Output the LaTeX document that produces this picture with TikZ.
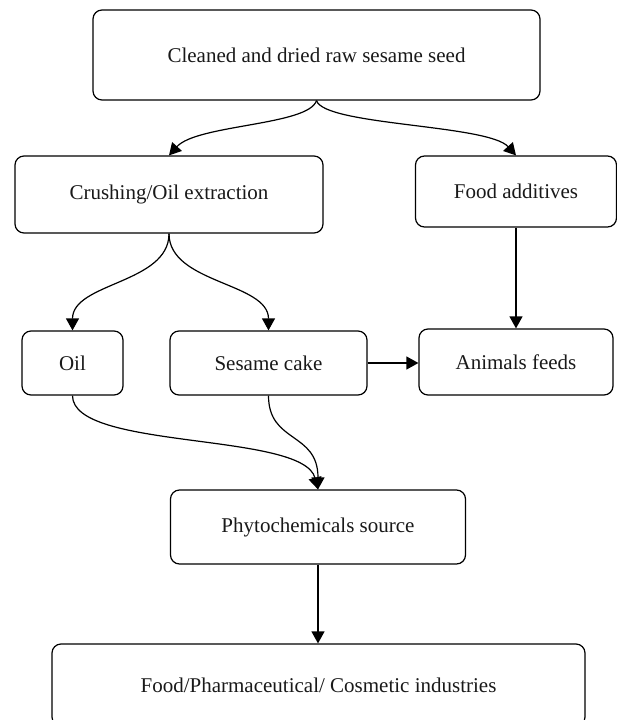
\documentclass[tikz,border=0pt]{standalone}
\usepackage{fontspec}
\setmainfont{Liberation Serif}
\usetikzlibrary{arrows.meta,calc}
\begin{document}
\begin{tikzpicture}[x=1pt,y=-1pt,
  box/.style={draw=black,line width=1.2pt,rounded corners=9pt,inner sep=0pt,
    font=\fontsize{21}{25}\selectfont,text=black!90},
  arr/.style={draw=black,line width=1.2pt,-{Triangle[length=12pt,width=13pt]}}]
\useasboundingbox (0,0) rectangle (617,720);
\node[box,minimum width=447pt,minimum height=90pt] (top) at (316.5,55) {Cleaned and dried raw sesame seed};
\node[box,minimum width=308pt,minimum height=77pt] (crush) at (169,194.5) {Crushing/Oil extraction};
\node[box,minimum width=201pt,minimum height=71pt] (food) at (516,191.5) {Food additives};
\node[box,minimum width=101pt,minimum height=64pt] (oil) at (72.5,363) {Oil};
\node[box,minimum width=197pt,minimum height=64pt] (cake) at (268.5,363) {Sesame cake};
\node[box,minimum width=194pt,minimum height=66pt] (animal) at (516,362) {Animals feeds};
\node[box,minimum width=295pt,minimum height=74pt] (phyto) at (318,527) {Phytochemicals source};
\node[box,minimum width=533pt,minimum height=82pt] (bottom) at (318.5,685) {Food/Pharmaceutical/ Cosmetic industries};
\draw[arr] (top.south) .. controls ($(top.south)+(-8,25)$) and ($(crush.north)+(28,-31)$) .. (crush.north);
\draw[arr] (top.south) .. controls ($(top.south)+(8,25)$) and ($(food.north)+(-28,-31)$) .. (food.north);
\draw[arr] (crush.south) .. controls ($(crush.south)+(0,50)$) and ($(oil.north)+(0,-48)$) .. (oil.north);
\draw[arr] (crush.south) .. controls ($(crush.south)+(0,50)$) and ($(cake.north)+(0,-48)$) .. (cake.north);
\draw[arr] (food.south) -- (food.south |- animal.north);
\draw[arr] (cake.east) -- (cake.east -| animal.west);
\draw[arr] (oil.south) .. controls ($(oil.south)+(0,55)$) and ($(phyto.north)+(-15,-58)$) .. (phyto.north);
\draw[arr] (cake.south) .. controls ($(cake.south)+(0,48)$) and ($(phyto.north)+(0,-58)$) .. (phyto.north);
\draw[arr] (phyto.south) -- (phyto.south |- bottom.north);
\end{tikzpicture}
\end{document}
